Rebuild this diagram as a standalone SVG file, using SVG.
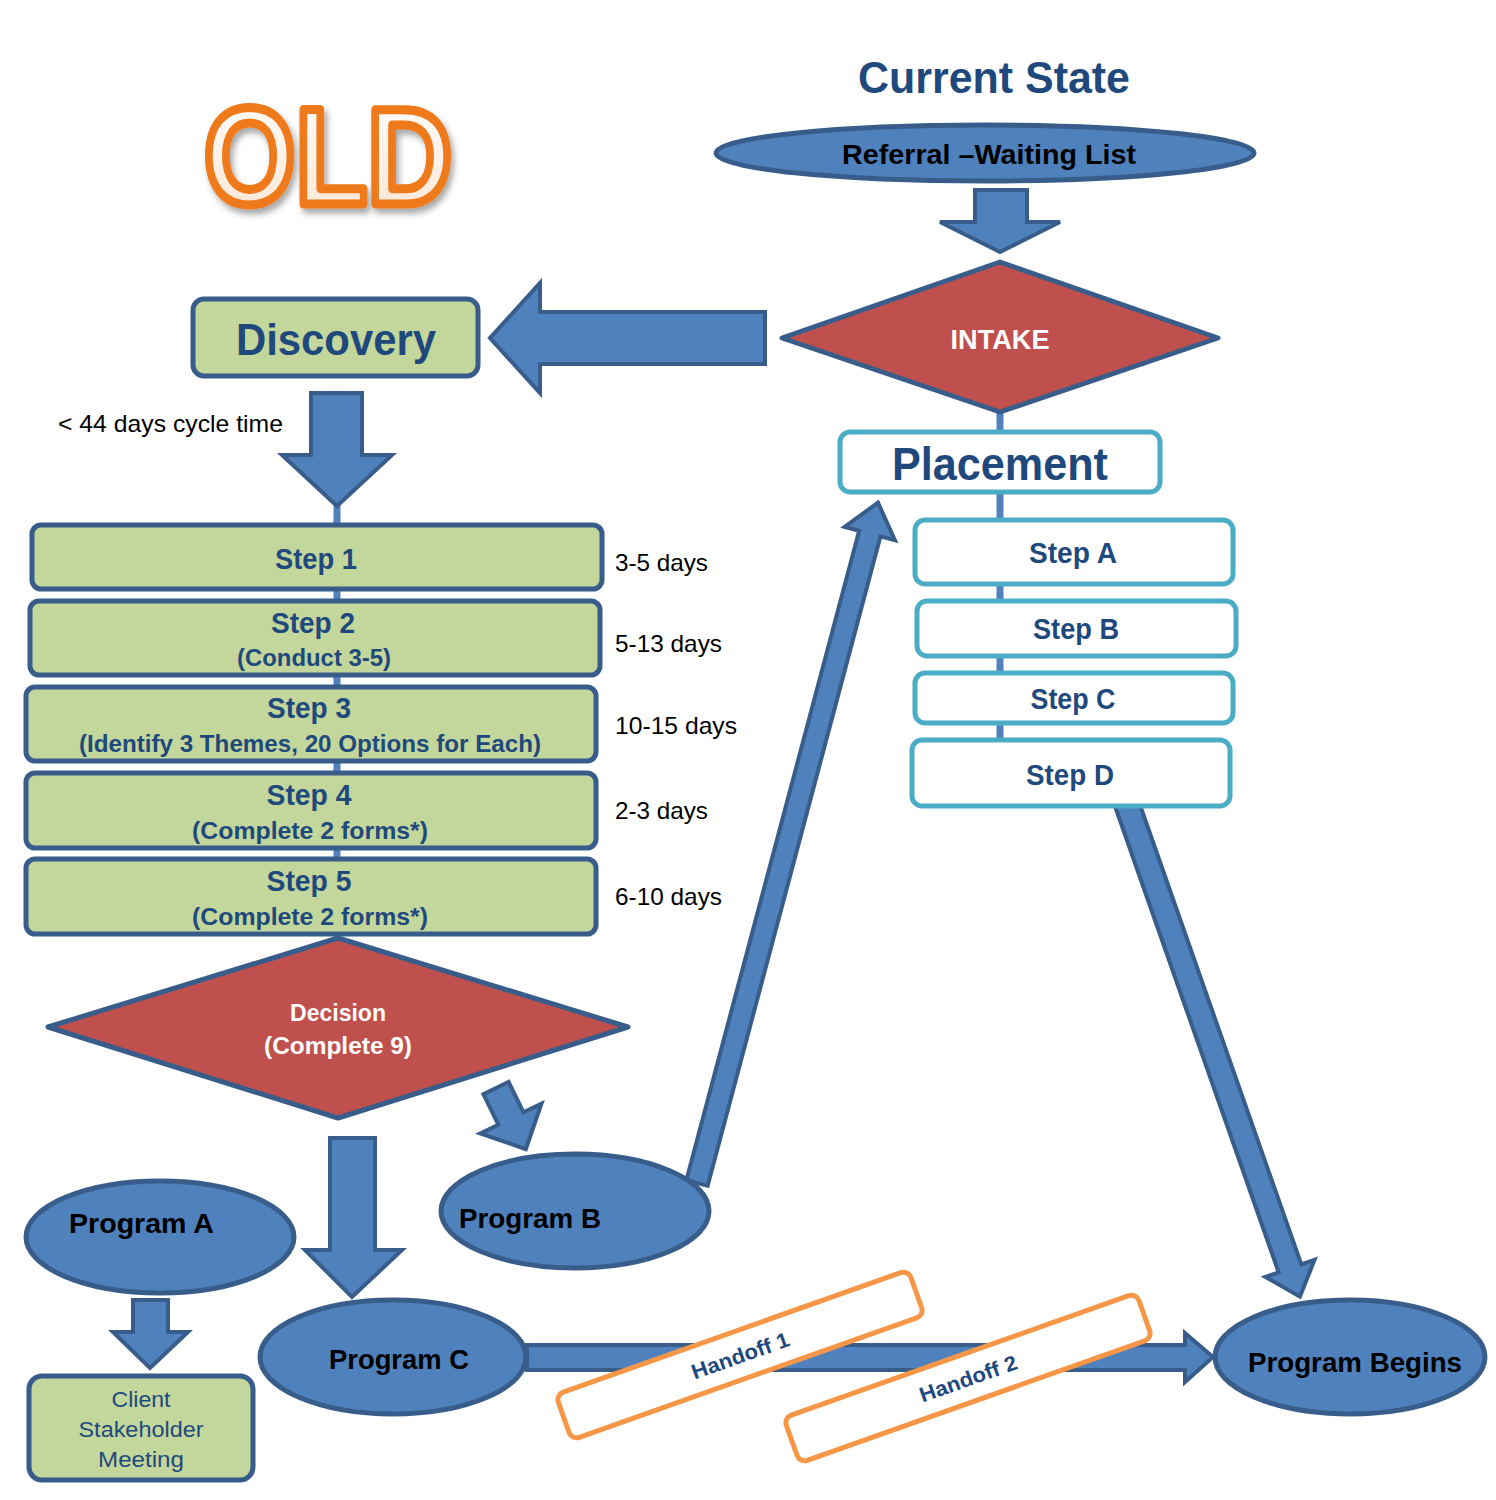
<svg xmlns="http://www.w3.org/2000/svg" width="1496" height="1500" viewBox="0 0 1496 1500">
<defs>
<style>
.blk{fill:#4F81BD;stroke:#385D8A;stroke-width:4;stroke-linejoin:miter}
.grn{fill:#C3D69B;stroke:#385D8A;stroke-width:5}
.red{fill:#C0504D;stroke:#385D8A;stroke-width:5;stroke-linejoin:round}
.ell{fill:#4F81BD;stroke:#385D8A;stroke-width:5}
.wbx{fill:#FFFFFF;stroke:#4BACC6;stroke-width:5}
.obx{fill:#FFFFFF;stroke:#F79646;stroke-width:5}
.ln{stroke:#4F81BD;stroke-width:7;fill:none}
text{font-family:"Liberation Sans",Arial,sans-serif;}
.t{font-weight:bold;fill:#1F497D;text-anchor:middle}
.w{font-weight:bold;fill:#FFFFFF;text-anchor:middle}
.k{font-weight:bold;fill:#000000}
.d{fill:#000000;font-size:24px}
</style>
<filter id="sh" x="-20%" y="-20%" width="140%" height="150%">
<feDropShadow dx="3" dy="5" stdDeviation="3" flood-color="#000000" flood-opacity="0.35"/>
</filter>
<linearGradient id="og" x1="0" y1="0" x2="0" y2="1">
<stop offset="0" stop-color="#FFFFFF"/>
<stop offset="1" stop-color="#FCE4D0"/>
</linearGradient>
</defs>
<rect width="1496" height="1500" fill="#FFFFFF"/>

<g id="title">
<text x="994" y="93" class="t" font-size="44" textLength="272" lengthAdjust="spacingAndGlyphs">Current State</text>
</g>
<g id="old" filter="url(#sh)">
<text x="204" y="204" font-size="138" font-weight="bold" fill="url(#og)" stroke="#EE7A1C" stroke-width="9" stroke-linejoin="round" textLength="248" lengthAdjust="spacingAndGlyphs">OLD</text>
</g>

<g id="connectors">
<line class="ln" x1="337" y1="500" x2="337" y2="940"/>
<line class="ln" x1="1000" y1="410" x2="1000" y2="435"/>
<line class="ln" x1="1000" y1="490" x2="1000" y2="742"/>
<polygon class="blk" points="975,190 1027,190 1027,222 1060,222 1000,252 940,222 975,222"/>
<polygon class="blk" points="765,312 765,364 540,364 540,393 490,338 540,283 540,312"/>
<polygon class="blk" points="311,393 362,393 362,455 392,455 337,506 282,455 311,455"/>
<polygon class="blk" points="330,1138 375,1138 375,1250 402,1250 352,1297 305,1250 330,1250"/>
<polygon class="blk" points="133,1300 168,1300 168,1332 188,1332 150,1368 113,1332 133,1332"/>
<polygon class="blk" points="527,1345 1185,1345 1185,1333 1213,1357 1185,1382 1185,1370 527,1370"/>
<polygon class="blk" transform="translate(496,1088) rotate(64)" points="0,-14 34,-14 34,-34 68,0 34,34 34,14 0,14"/>
<polygon class="blk" transform="translate(697,1183) rotate(-75.1)" points="0,-11 672,-11 672,-26 704,0 672,26 672,11 0,11"/>
<polygon class="blk" transform="translate(1122,790) rotate(70.65)" points="0,-12 507,-12 507,-26 537,0 507,26 507,12 0,12"/>
</g>

<g id="referral">
<ellipse class="ell" cx="985" cy="153" rx="269" ry="28"/>
<text x="989" y="164" class="k" font-size="28" text-anchor="middle" textLength="294" lengthAdjust="spacingAndGlyphs">Referral –Waiting List</text>
</g>
<g id="intake">
<polygon class="red" points="1000,262 1218,338 1000,412 782,338"/>
<text x="1000" y="349" class="w" font-size="28" textLength="99" lengthAdjust="spacingAndGlyphs">INTAKE</text>
</g>
<g id="discovery">
<rect class="grn" x="193" y="299" width="285" height="77" rx="11"/>
<text x="336" y="355" class="t" font-size="44" textLength="200" lengthAdjust="spacingAndGlyphs">Discovery</text>
</g>
<g id="cycle-note">
<text x="58" y="432" class="d" textLength="225" lengthAdjust="spacingAndGlyphs">&lt; 44 days cycle time</text>
</g>

<g id="step1">
<rect class="grn" x="32" y="525" width="570" height="64" rx="9"/>
<text x="316" y="569" class="t" font-size="30" textLength="82" lengthAdjust="spacingAndGlyphs">Step 1</text>
</g>
<g id="step2">
<rect class="grn" x="30" y="601" width="570" height="74" rx="9"/>
<text x="313" y="633" class="t" font-size="30" textLength="84" lengthAdjust="spacingAndGlyphs">Step 2</text>
<text x="314" y="666" class="t" font-size="24" textLength="154" lengthAdjust="spacingAndGlyphs">(Conduct 3-5)</text>
</g>
<g id="step3">
<rect class="grn" x="26" y="687" width="570" height="74" rx="9"/>
<text x="309" y="718" class="t" font-size="30" textLength="84" lengthAdjust="spacingAndGlyphs">Step 3</text>
<text x="310" y="752" class="t" font-size="24" textLength="462" lengthAdjust="spacingAndGlyphs">(Identify 3 Themes, 20 Options for Each)</text>
</g>
<g id="step4">
<rect class="grn" x="26" y="773" width="570" height="75" rx="9"/>
<text x="309" y="805" class="t" font-size="30" textLength="85" lengthAdjust="spacingAndGlyphs">Step 4</text>
<text x="310" y="839" class="t" font-size="24" textLength="236" lengthAdjust="spacingAndGlyphs">(Complete 2 forms*)</text>
</g>
<g id="step5">
<rect class="grn" x="26" y="859" width="570" height="75" rx="9"/>
<text x="309" y="891" class="t" font-size="30" textLength="85" lengthAdjust="spacingAndGlyphs">Step 5</text>
<text x="310" y="925" class="t" font-size="24" textLength="236" lengthAdjust="spacingAndGlyphs">(Complete 2 forms*)</text>
</g>
<g id="durations">
<text x="615" y="571" class="d" textLength="93" lengthAdjust="spacingAndGlyphs">3-5 days</text>
<text x="615" y="652" class="d" textLength="107" lengthAdjust="spacingAndGlyphs">5-13 days</text>
<text x="615" y="734" class="d" textLength="122" lengthAdjust="spacingAndGlyphs">10-15 days</text>
<text x="615" y="819" class="d" textLength="93" lengthAdjust="spacingAndGlyphs">2-3 days</text>
<text x="615" y="905" class="d" textLength="107" lengthAdjust="spacingAndGlyphs">6-10 days</text>
</g>

<g id="decision">
<polygon class="red" points="338,938 628,1027 338,1118 48,1027"/>
<text x="338" y="1021" class="w" font-size="24" textLength="96" lengthAdjust="spacingAndGlyphs">Decision</text>
<text x="338" y="1054" class="w" font-size="24" textLength="148" lengthAdjust="spacingAndGlyphs">(Complete 9)</text>
</g>

<g id="program-a">
<ellipse class="ell" cx="160" cy="1237" rx="134" ry="56"/>
<text x="69" y="1233" class="k" font-size="28" textLength="145" lengthAdjust="spacingAndGlyphs">Program A</text>
</g>
<g id="program-b">
<ellipse class="ell" cx="575" cy="1211" rx="134" ry="57"/>
<text x="459" y="1228" class="k" font-size="28" textLength="142" lengthAdjust="spacingAndGlyphs">Program B</text>
</g>
<g id="program-c">
<ellipse class="ell" cx="393" cy="1357" rx="133" ry="57"/>
<text x="399" y="1369" class="k" font-size="28" text-anchor="middle" textLength="140" lengthAdjust="spacingAndGlyphs">Program C</text>
</g>
<g id="program-begins">
<ellipse class="ell" cx="1350" cy="1357" rx="135" ry="57"/>
<text x="1355" y="1372" class="k" font-size="28" text-anchor="middle" textLength="214" lengthAdjust="spacingAndGlyphs">Program Begins</text>
</g>
<g id="client-meeting">
<rect class="grn" x="29" y="1376" width="224" height="104" rx="13"/>
<text x="141" y="1407" fill="#1F497D" font-size="22" text-anchor="middle" textLength="59" lengthAdjust="spacingAndGlyphs">Client</text>
<text x="141" y="1437" fill="#1F497D" font-size="22" text-anchor="middle" textLength="125" lengthAdjust="spacingAndGlyphs">Stakeholder</text>
<text x="141" y="1467" fill="#1F497D" font-size="22" text-anchor="middle" textLength="86" lengthAdjust="spacingAndGlyphs">Meeting</text>
</g>

<g id="handoff-1" transform="translate(740,1355) rotate(-19.5)">
<rect class="obx" x="-187" y="-24" width="374" height="48" rx="8"/>
<text x="0" y="8" class="t" font-size="21" textLength="102" lengthAdjust="spacingAndGlyphs">Handoff 1</text>
</g>
<g id="handoff-2" transform="translate(968,1378) rotate(-19.5)">
<rect class="obx" x="-187" y="-24" width="374" height="48" rx="8"/>
<text x="0" y="8" class="t" font-size="21" textLength="102" lengthAdjust="spacingAndGlyphs">Handoff 2</text>
</g>

<g id="placement">
<rect class="wbx" x="840" y="432" width="320" height="60" rx="10"/>
<text x="1000" y="480" class="t" font-size="46" textLength="216" lengthAdjust="spacingAndGlyphs">Placement</text>
</g>
<g id="step-a">
<rect class="wbx" x="915" y="520" width="318" height="64" rx="10"/>
<text x="1073" y="563" class="t" font-size="29" textLength="88" lengthAdjust="spacingAndGlyphs">Step A</text>
</g>
<g id="step-b">
<rect class="wbx" x="917" y="601" width="319" height="55" rx="10"/>
<text x="1076" y="639" class="t" font-size="29" textLength="86" lengthAdjust="spacingAndGlyphs">Step B</text>
</g>
<g id="step-c">
<rect class="wbx" x="915" y="673" width="318" height="50" rx="10"/>
<text x="1073" y="709" class="t" font-size="29" textLength="85" lengthAdjust="spacingAndGlyphs">Step C</text>
</g>
<g id="step-d">
<rect class="wbx" x="912" y="740" width="318" height="66" rx="10"/>
<text x="1070" y="785" class="t" font-size="29" textLength="88" lengthAdjust="spacingAndGlyphs">Step D</text>
</g>
</svg>
